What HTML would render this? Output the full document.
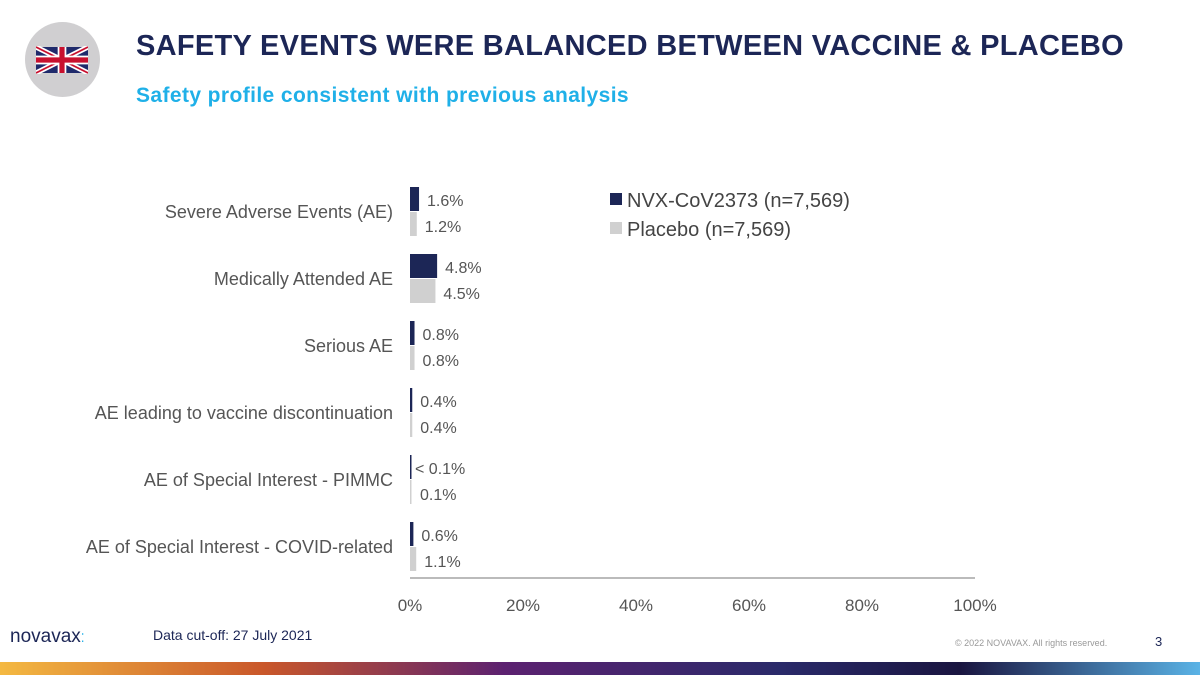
<!DOCTYPE html>
<html><head><meta charset="utf-8"><style>
body{margin:0;width:1200px;height:675px;background:#fff;font-family:"Liberation Sans",sans-serif;overflow:hidden;position:relative}
.abs{position:absolute}
</style></head><body>
<div class="abs" style="left:25px;top:22px;width:75px;height:75px;border-radius:50%;background:#d0cfd1">
<svg width="52" height="28" viewBox="0 0 60 30" style="position:absolute;left:11px;top:24px">
<rect width="60" height="30" fill="#1f2a6b"/>
<path d="M0,0 L60,30 M60,0 L0,30" stroke="#fff" stroke-width="6"/>
<path d="M0,0 L60,30 M60,0 L0,30" stroke="#c8102e" stroke-width="2"/>
<path d="M30,0 V30 M0,15 H60" stroke="#fff" stroke-width="10"/>
<path d="M30,0 V30 M0,15 H60" stroke="#c8102e" stroke-width="6"/>
</svg></div>
<div class="abs" style="left:136px;top:30px;font-size:29px;font-weight:bold;color:#1c2656;letter-spacing:0.3px">SAFETY EVENTS WERE BALANCED BETWEEN VACCINE &amp; PLACEBO</div>
<div class="abs" style="left:136px;top:84px;font-size:21px;font-weight:bold;color:#1fb0e8;letter-spacing:0.4px">Safety profile consistent with previous analysis</div>
<svg class="abs" style="left:0;top:0" width="1200" height="675" id="chart"></svg>
<div class="abs" style="left:10px;top:626px;font-size:19px;color:#1c2656">novavax<span style="color:#1fb0e8;font-size:12px">⁚</span></div>
<div class="abs" style="left:153px;top:627px;font-size:14px;color:#1c2656">Data cut-off: 27 July 2021</div>
<div class="abs" style="left:955px;top:638px;font-size:9px;color:#999">© 2022 NOVAVAX. All rights reserved.</div>
<div class="abs" style="left:1155px;top:634px;font-size:13px;color:#1c2656">3</div>
<div class="abs" style="left:0;top:662px;width:1200px;height:13px;background:linear-gradient(90deg,#f4b942 0%,#c9572a 22%,#5c2170 42%,#2a2a6a 65%,#1a1540 80%,#5ab3e6 100%)"></div>
<script>
const categories=["Severe Adverse Events (AE)","Medically Attended AE","Serious AE","AE leading to vaccine discontinuation","AE of Special Interest - PIMMC","AE of Special Interest - COVID-related"];
const nvx=[1.6,4.8,0.8,0.4,0.05,0.6];
const placebo=[1.2,4.5,0.8,0.4,0.1,1.1];
const nvxLabels=["1.6%","4.8%","0.8%","0.4%","< 0.1%","0.6%"];
const placeboLabels=["1.2%","4.5%","0.8%","0.4%","0.1%","1.1%"];
const ticks=[0,20,40,60,80,100];
const svg=document.getElementById('chart');const NS='http://www.w3.org/2000/svg';
const x=v=>410+v*5.65;const y0=i=>187+i*67;
function mk(t,a,txt){const e=document.createElementNS(NS,t);for(const k in a)e.setAttribute(k,a[k]);if(txt!=null)e.textContent=txt;svg.appendChild(e);return e;}
categories.forEach((c,i)=>{
 let e=mk('text',{x:393,y:y0(i)+31,'text-anchor':'end','font-size':18,fill:'#555','font-family':'Liberation Sans','textLength':null});
 e.removeAttribute('textLength');
 e.textContent=c;
 
 
 e=mk('rect',{x:410,y:y0(i),width:Math.max(1.5,x(nvx[i])-410),height:24,fill:'#1c2656'});
 
 
 e=mk('rect',{x:410,y:y0(i)+25,width:Math.max(1.5,x(placebo[i])-410),height:24,fill:'#d0d0d0'});
 
 
 const lx=nvxLabels[i].startsWith('<')?415:Math.max(x(nvx[i]),412)+8;
 e=mk('text',{x:lx,y:y0(i)+19,'font-size':16,fill:'#555'},nvxLabels[i]);
 
 
 e=mk('text',{x:Math.max(x(placebo[i]),412)+8,y:y0(i)+45,'font-size':16,fill:'#555'},placeboLabels[i]);
 
 
});
let ax=mk('line',{x1:410,x2:975,y1:578,y2:578,stroke:'#bbb','stroke-width':2});


ticks.forEach(t=>{const e=mk('text',{x:x(t),y:611,'text-anchor':'middle','font-size':17,fill:'#555'},t+'%');
 
 });
let l=mk('rect',{x:610,y:193,width:12,height:12,fill:'#1c2656'});


l=mk('text',{x:627,y:207,'font-size':20,fill:'#444'},'NVX-CoV2373  (n=7,569)');


l=mk('rect',{x:610,y:222,width:12,height:12,fill:'#d0d0d0'});


l=mk('text',{x:627,y:236,'font-size':20,fill:'#444'},'Placebo  (n=7,569)');


</script>
</body></html>
